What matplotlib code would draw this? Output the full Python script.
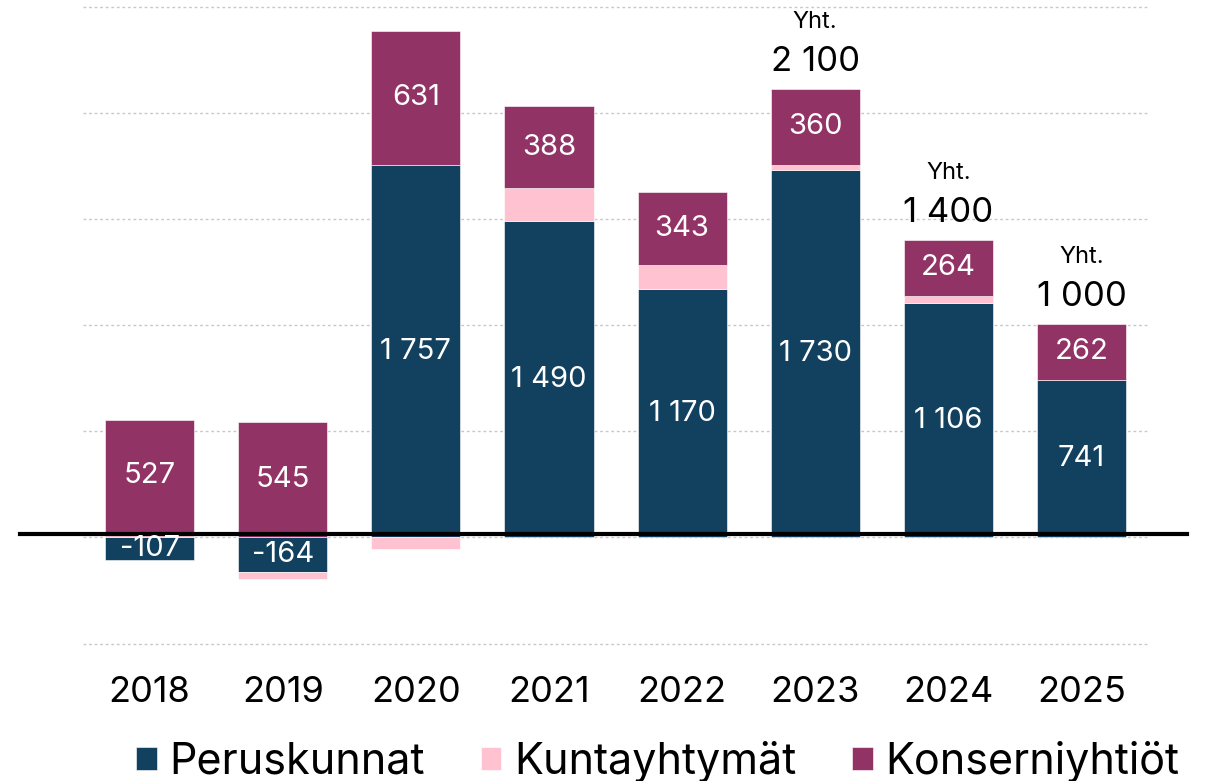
import numpy as np
import matplotlib.pyplot as plt

plt.rcParams["font.family"] = ["Inter", "DejaVu Sans"]

years = ["2018", "2019", "2020", "2021", "2022", "2023", "2024", "2025"]
peruskunnat = [-107, -164, 1757, 1490, 1170, 1730, 1106, 741]
kuntayhtymat = [28, -33, -52, 156, 113, 25, 33, 3]
konserniyhtiot = [527, 545, 631, 388, 343, 360, 264, 262]
total_years = ["2023", "2024", "2025"]
total_labels = ["2 100", "1 400", "1 000"]

series = [
    ("Peruskunnat", peruskunnat, "#12405f"),
    ("Kuntayhtymät", kuntayhtymat, "#ffc2d1"),
    ("Konserniyhtiöt", konserniyhtiot, "#923365"),
]


def fmt(v):
    return f"{v:,}".replace(",", " ")


fig = plt.figure(figsize=(12.19, 7.81), dpi=100)
ax = fig.add_axes([0.0681, 0.1678, 0.8737, 0.8322])

x = np.arange(len(years))
pos_base = np.zeros(len(years))
neg_base = np.zeros(len(years))

for name, vals, color in series:
    vals = np.array(vals, dtype=float)
    bottom = np.where(vals >= 0, pos_base, neg_base)
    ax.bar(x, vals, 0.67, bottom=bottom, color=color, label=name,
           edgecolor="white", linewidth=0.4, zorder=2)
    if name != "Kuntayhtymät":
        for xi, b, v in zip(x, bottom, vals):
            ax.text(xi, b + v / 2, fmt(int(v)), ha="center", va="center",
                    color="white", fontsize=21, zorder=4)
    pos_base = np.where(vals >= 0, pos_base + vals, pos_base)
    neg_base = np.where(vals < 0, neg_base + vals, neg_base)

for yr, lab in zip(total_years, total_labels):
    i = years.index(yr)
    ax.annotate(lab, (i, pos_base[i]), xytext=(0, 13), textcoords="offset points",
                ha="center", va="baseline", fontsize=25)
    ax.annotate("Yht.", (i, pos_base[i]), xytext=(0, 44), textcoords="offset points",
                ha="center", va="baseline", fontsize=17)

ax.set_xlim(-0.5, 7.5)
ax.set_ylim(-530, 2533)
ax.set_yticks(np.arange(-500, 2501, 500))
ax.set_yticklabels([])
ax.yaxis.grid(True, color="#c8c8c8", linestyle=(0, (2, 2)), linewidth=1, zorder=0)
ax.set_axisbelow(True)
ax.tick_params(length=0, pad=19)
ax.set_xticks(x)
ax.set_xticklabels(years, fontsize=26)
for s in ax.spines.values():
    s.set_visible(False)

ax.axhline(16, xmin=-0.059, xmax=1.0366, color="black", linewidth=3, clip_on=False, zorder=3)

fig.legend(loc="lower center", bbox_to_anchor=(658 / 1219, -0.052), ncol=3, frameon=False,
           fontsize=31, handlelength=0.47, handleheight=0.47, handletextpad=0.3,
           columnspacing=1.3)

fig.savefig("out.png", dpi=100)
